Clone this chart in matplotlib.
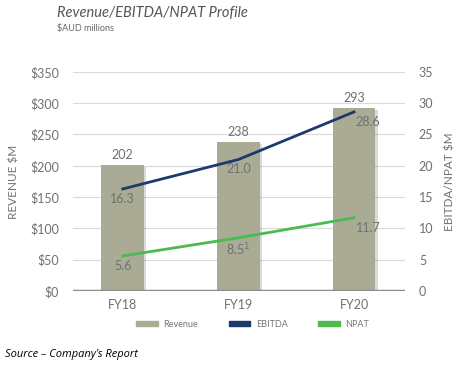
import numpy as np
import matplotlib.pyplot as plt
import matplotlib.patheffects as pe

plt.rcParams['font.family'] = ['Lato', 'DejaVu Sans']

years = ['FY18', 'FY19', 'FY20']
revenue = [202, 238, 293]
ebitda = [16.3, 21.0, 28.6]
npat = [5.6, 8.5, 11.7]
npat_labels = ['5.6', '8.5$^1$', '11.7']

bar_col = '#a9ab95'
ebitda_col = '#1e3a6d'
npat_col = '#4cbb4f'
txt_col = '#707070'

fig = plt.figure(figsize=(4.77, 3.76), dpi=100)
ax = fig.add_axes([0.153, 0.226, 0.696, 0.583])
ax2 = ax.twinx()

x = np.arange(len(years))
ax.bar(x, revenue, width=0.37, color=bar_col, zorder=2,
       path_effects=[pe.SimplePatchShadow(offset=(1.5, -1.5), alpha=0.18), pe.Normal()])
for xi, v in zip(x, revenue):
    ax.text(xi, v + 6, str(v), ha='center', va='bottom', fontsize=9, color=txt_col)

ax.set_ylim(0, 350)
ax.set_xlim(-0.43, 2.44)
ax.set_yticks(range(0, 351, 50))
ax.set_yticklabels(['$%d' % v for v in range(0, 351, 50)])
ax.grid(axis='y', color='#dadada', lw=0.8, zorder=0)
ax.set_axisbelow(True)
ax.axhline(0, color='#8c8c8c', lw=2.5, zorder=3)
ax.set_xticks(x)
ax.set_xticklabels(years)
ax.set_ylabel('REVENUE $M', color=txt_col, fontsize=8.5, labelpad=8)

ax2.plot(x, ebitda, color=ebitda_col, lw=2, zorder=4)
ax2.plot(x, npat, color=npat_col, lw=2, zorder=4)
ax2.set_ylim(0, 35)
ax2.set_yticks(range(0, 36, 5))
ax2.set_ylabel('EBITDA/NPAT $M', color=txt_col, fontsize=8.5, labelpad=8)

offs = [0, 0, 0.12]
for xi, v, o in zip(x, ebitda, offs):
    ax2.text(xi + o, v - 0.6, '%.1f' % v, ha='center', va='top', fontsize=9, color=txt_col)
for xi, lab, v, o in zip(x, npat_labels, npat, offs):
    ax2.text(xi + o, v - 0.6, lab, ha='center', va='top', fontsize=9, color=txt_col)

for a in (ax, ax2):
    for s in a.spines.values():
        s.set_visible(False)
    a.tick_params(length=0, labelsize=9, colors=txt_col, pad=10)
ax.tick_params(axis='x', pad=6)

fig.text(0.12, 0.955, 'Revenue/EBITDA/NPAT Profile', fontsize=10.5, style='italic', color='#555555')
fig.text(0.12, 0.918, '$AUD millions', fontsize=6.5, color='#666666')

handles = [plt.Rectangle((0, 0), 1, 1, color=bar_col),
           plt.Rectangle((0, 0), 1, 1, color=ebitda_col),
           plt.Rectangle((0, 0), 1, 1, color=npat_col)]
fig.legend(handles, ['Revenue', 'EBITDA', 'NPAT'], loc='center', bbox_to_anchor=(0.53, 0.138),
           ncol=3, frameon=False, fontsize=6.5, handlelength=2.4, handleheight=0.5,
           handletextpad=0.6, columnspacing=3.4, labelcolor='#777777')

fig.text(0.01, 0.05, 'Source \u2013 Company\u2019s Report', fontsize=8, style='italic', color='black',
         family=['Open Sans', 'DejaVu Sans'])

fig.savefig('out.png', dpi=100)
